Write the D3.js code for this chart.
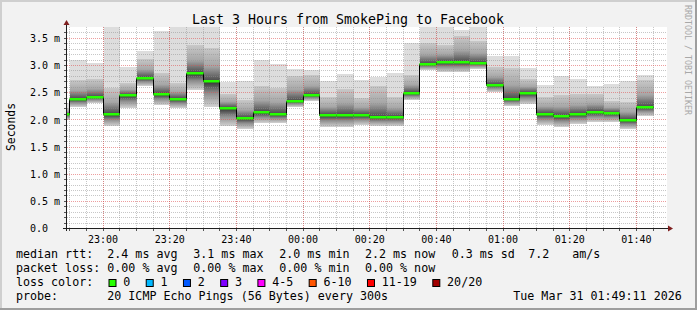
<!DOCTYPE html>
<html>
<head>
<meta charset="utf-8">
<script src="https://cdn.jsdelivr.net/npm/d3@7"></script>
<style>
body { margin: 0; background: #f2f2f2; }
text { font-family: "DejaVu Sans Mono", monospace; white-space: pre; }
</style>
</head>
<body>
<div id="chart"></div>
<script>
// 5 minute slots, the first one is cut by the left edge of the graph
let slotStart = ["22:45","22:50","22:55","23:00","23:05","23:10","23:15","23:20","23:25","23:30","23:35",
  "23:40","23:45","23:50","23:55","00:00","00:05","00:10","00:15","00:20","00:25","00:30","00:35",
  "00:40","00:45","00:50","00:55","01:00","01:05","01:10","01:15","01:20","01:25","01:30","01:35","01:40"];
// median rtt in ms
let medianRtt = [2.10,2.38,2.42,2.10,2.45,2.77,2.47,2.38,2.85,2.71,2.20,
  2.03,2.14,2.10,2.34,2.45,2.08,2.08,2.08,2.05,2.04,2.49,3.02,
  3.05,3.05,3.04,2.64,2.37,2.49,2.10,2.07,2.09,2.14,2.12,1.98,2.23];
// slowest ping of the slot
let pingMax = [2.30,3.10,3.03,3.75,2.96,3.26,3.63,3.75,3.75,3.75,2.69,
  2.70,3.10,3.02,2.93,2.90,2.70,2.83,2.72,2.78,2.86,3.41,3.72,
  3.72,3.64,3.70,3.16,3.16,2.94,2.64,2.79,2.75,2.61,2.65,2.70,2.81];
// top of the denser smoke
let pingHigh = [2.20,2.72,2.75,2.57,2.66,3.12,2.85,2.66,3.37,3.31,2.47,
  2.35,2.61,2.57,2.80,2.82,2.41,2.56,2.40,2.61,2.42,2.82,3.40,
  3.37,3.54,3.45,2.96,2.94,2.75,2.41,2.45,2.47,2.47,2.33,2.32,2.72];
// fastest ping of the slot
let pingMin = [1.98,2.23,2.30,1.87,2.20,2.61,2.26,2.20,2.54,2.23,1.87,
  1.83,1.93,1.93,2.23,2.33,1.86,1.86,1.90,1.87,1.87,2.36,2.91,
  2.88,2.87,2.92,2.50,2.25,2.29,1.89,1.86,1.92,1.95,1.95,1.83,2.07];

let yTicks = [0, 0.5, 1.0, 1.5, 2.0, 2.5, 3.0, 3.5];
let xTickLabels = ["23:00","23:20","23:40","00:00","00:20","00:40","01:00","01:20","01:40"];
let lossLabels = ["0","1","2","3","4-5","6-10","11-19","20/20"];
let lossColors = ["#26ff00","#00b8ff","#0059ff","#7e00ff","#ff00ff","#ff5500","#ff0000","#a10000"];

const width = 697, height = 310;
const plotLeft = 67, plotRight = 667, plotTop = 27, plotBottom = 228;
const legendFont = 11.67, charW = legendFont * 0.602;

let parseTime = d3.utcParse("%Y-%m-%d %H:%M:%S");
//times after midnight belong to the next day
function toDate(hm){
  let day = hm < "12:00" ? "2026-03-31" : "2026-03-30";
  let sec = hm.length == 5 ? hm + ":00" : hm;
  return parseTime(day + " " + sec);
}
let startTime = toDate("22:49:11");
let endTime = toDate("01:49:11");

let x = d3.scaleUtc().domain([startTime, endTime]).range([plotLeft - 0.5, plotRight - 0.5]);
let y = d3.scaleLinear().domain([0, 3.7]).range([plotBottom, plotTop]);

let slots = slotStart.map(function(s, i){
  let t0 = toDate(s);
  return { t0: t0, t1: d3.utcMinute.offset(t0, 5), med: medianRtt[i], max: pingMax[i], hi: pingHigh[i], min: pingMin[i] };
});

let svg = d3.select("#chart").append("svg")
  .attr("width", width)
  .attr("height", height);

svg.append("rect").attr("width", width).attr("height", height).attr("fill", "#f2f2f2");
//3d shade round the picture
svg.append("rect").attr("x", 0).attr("y", 0).attr("width", width).attr("height", 2).attr("fill", "#cfcfcf");
svg.append("rect").attr("x", 0).attr("y", 0).attr("width", 2).attr("height", height).attr("fill", "#cfcfcf");
svg.append("rect").attr("x", 0).attr("y", height - 2).attr("width", width).attr("height", 2).attr("fill", "#9e9e9e");
svg.append("rect").attr("x", width - 2).attr("y", 0).attr("width", 2).attr("height", height).attr("fill", "#9e9e9e");

svg.append("rect")
  .attr("x", plotLeft).attr("y", plotTop)
  .attr("width", plotRight - plotLeft).attr("height", plotBottom - plotTop)
  .attr("fill", "#ffffff");

let defs = svg.append("defs");
defs.append("clipPath").attr("id", "plotClip")
  .append("rect")
  .attr("x", plotLeft).attr("y", plotTop)
  .attr("width", plotRight - plotLeft).attr("height", plotBottom - plotTop);

let gradUp = defs.append("linearGradient").attr("id", "smokeUp")
  .attr("x1", 0).attr("y1", 0).attr("x2", 0).attr("y2", 1);
gradUp.append("stop").attr("offset", "0%").attr("stop-color", "#c8c8c8");
gradUp.append("stop").attr("offset", "55%").attr("stop-color", "#a6a6a6");
gradUp.append("stop").attr("offset", "100%").attr("stop-color", "#4a4a4a");

let gradDown = defs.append("linearGradient").attr("id", "smokeDown")
  .attr("x1", 0).attr("y1", 0).attr("x2", 0).attr("y2", 1);
gradDown.append("stop").attr("offset", "0%").attr("stop-color", "#2e2e2e");
gradDown.append("stop").attr("offset", "45%").attr("stop-color", "#8c8c8c");
gradDown.append("stop").attr("offset", "100%").attr("stop-color", "#d2d2d2");

let px = function(t){ return Math.round(x(t)) + 0.5; };
let py = function(v){ return Math.round(y(v)); };

let smoke = svg.append("g").attr("clip-path", "url(#plotClip)").attr("shape-rendering", "crispEdges");

//lightest smoke, full spread of the pings
smoke.selectAll(".outer").data(slots).enter().append("rect")
  .attr("x", d => px(d.t0)).attr("width", d => px(d.t1) - px(d.t0))
  .attr("y", d => py(d.max)).attr("height", d => py(d.min) - py(d.max))
  .attr("fill", "#dddddd");

smoke.selectAll(".upper").data(slots).enter().append("rect")
  .attr("x", d => px(d.t0)).attr("width", d => px(d.t1) - px(d.t0))
  .attr("y", d => py(d.hi)).attr("height", d => py(d.med) - py(d.hi))
  .attr("fill", "url(#smokeUp)");

smoke.selectAll(".lower").data(slots).enter().append("rect")
  .attr("x", d => px(d.t0)).attr("width", d => px(d.t1) - px(d.t0))
  .attr("y", d => py(d.med)).attr("height", d => py(d.min) - py(d.med))
  .attr("fill", "url(#smokeDown)");

//grid goes over the smoke, like rrdtool does
let grid = svg.append("g");
let yMinor = d3.range(1, 37).map(d => d / 10).filter(d => d % 0.5 > 0.01 && d % 0.5 < 0.49);
let xMinor = d3.utcMinute.every(5).range(toDate("22:50"), endTime);
let xMajor = xTickLabels.map(toDate);

grid.selectAll(".ymin").data(yMinor).enter().append("line")
  .attr("x1", plotLeft).attr("x2", plotRight)
  .attr("y1", d => py(d) + 0.5).attr("y2", d => py(d) + 0.5)
  .attr("stroke", "rgba(143,143,143,0.5)").attr("stroke-dasharray", "1,1");

grid.selectAll(".xmin").data(xMinor).enter().append("line")
  .attr("x1", d => px(d)).attr("x2", d => px(d))
  .attr("y1", plotTop).attr("y2", plotBottom)
  .attr("stroke", "rgba(143,143,143,0.5)").attr("stroke-dasharray", "1,1");

grid.selectAll(".ymaj").data(yTicks.slice(1)).enter().append("line")
  .attr("x1", plotLeft).attr("x2", plotRight)
  .attr("y1", d => py(d) + 0.5).attr("y2", d => py(d) + 0.5)
  .attr("stroke", "rgba(222,79,79,0.55)").attr("stroke-dasharray", "1,1");

grid.selectAll(".xmaj").data(xMajor).enter().append("line")
  .attr("x1", d => px(d)).attr("x2", d => px(d))
  .attr("y1", plotTop).attr("y2", plotBottom)
  .attr("stroke", "rgba(222,79,79,0.55)").attr("stroke-dasharray", "1,1");

//small ticks on the axes
grid.selectAll(".ytick").data(yMinor.concat(yTicks)).enter().append("line")
  .attr("x1", plotLeft - 3).attr("x2", plotLeft)
  .attr("y1", d => py(d) + 0.5).attr("y2", d => py(d) + 0.5)
  .attr("stroke", "#555");
grid.selectAll(".xtick").data(xMinor).enter().append("line")
  .attr("x1", d => px(d)).attr("x2", d => px(d))
  .attr("y1", plotBottom).attr("y2", plotBottom + 3)
  .attr("stroke", "#555");

//median line: black steps then loss coloured segments
let medLine = d3.line()
  .x(d => px(d.t))
  .y(d => py(d.v) + 0.5)
  .curve(d3.curveStepAfter);
let medPoints = slots.map(d => ({ t: d.t0, v: d.med }));
medPoints.push({ t: slots[slots.length - 1].t1, v: slots[slots.length - 1].med });

let lines = svg.append("g").attr("clip-path", "url(#plotClip)");
lines.append("path")
  .attr("d", medLine(medPoints))
  .attr("fill", "none")
  .attr("stroke", "#000")
  .attr("stroke-width", 1);

lines.selectAll(".loss").data(slots).enter().append("rect")
  .attr("x", d => px(d.t0)).attr("width", d => px(d.t1) - px(d.t0))
  .attr("y", d => py(d.med) - 1).attr("height", 2.5)
  .attr("fill", lossColors[0]);

//axes
let yAxis = d3.axisLeft(y).tickValues(yTicks).tickSize(0)
  .tickFormat(d => d == 0 ? "0.0" : d3.format(".1f")(d) + " m");
let yAxisG = svg.append("g").attr("transform", "translate(" + plotLeft + ",0.5)").call(yAxis);
yAxisG.select(".domain").remove();
yAxisG.selectAll("text")
  .attr("x", 30 - plotLeft).attr("text-anchor", "start")
  .style("font-family", "DejaVu Sans Mono").style("font-size", "10px").attr("fill", "#000");

let xAxis = d3.axisBottom(x).tickValues(xMajor).tickSize(0).tickFormat(d3.utcFormat("%H:%M"));
let xAxisG = svg.append("g").attr("transform", "translate(0," + plotBottom + ")").call(xAxis);
xAxisG.select(".domain").remove();
xAxisG.selectAll("text")
  .attr("y", 14.7).attr("dy", 0)
  .style("font-family", "DejaVu Sans Mono").style("font-size", "10px").attr("fill", "#000");

svg.append("line")
  .attr("x1", plotLeft - 0.5).attr("x2", plotLeft - 0.5)
  .attr("y1", plotBottom + 3).attr("y2", plotTop - 3)
  .attr("stroke", "#1f1f1f");
svg.append("line")
  .attr("x1", plotLeft - 4).attr("x2", plotRight + 2)
  .attr("y1", plotBottom + 0.5).attr("y2", plotBottom + 0.5)
  .attr("stroke", "#1f1f1f");
svg.append("path")
  .attr("d", "M" + (plotLeft - 3.5) + "," + (plotTop - 2) + " L" + (plotLeft + 2.5) + "," + (plotTop - 2) + " L" + (plotLeft - 0.5) + "," + (plotTop - 7) + " Z")
  .attr("fill", "#7f1f1f");
svg.append("path")
  .attr("d", "M" + (plotRight + 1) + "," + (plotBottom - 2.5) + " L" + (plotRight + 1) + "," + (plotBottom + 3.5) + " L" + (plotRight + 6) + "," + (plotBottom + 0.5) + " Z")
  .attr("fill", "#7f1f1f");

//titles
svg.append("text")
  .attr("x", 348).attr("y", 24)
  .attr("text-anchor", "middle")
  .style("font-size", "13.3px")
  .text("Last 3 Hours from SmokePing to Facebook");

svg.append("text")
  .attr("transform", "translate(15,127) rotate(-90)")
  .attr("text-anchor", "middle")
  .style("font-size", "11.4px")
  .text("Seconds");

svg.append("text")
  .attr("transform", "translate(685,5) rotate(90)")
  .style("font-size", "8.3px")
  .attr("fill", "#a8a8a8")
  .text("RRDTOOL / TOBI OETIKER");

//legend
let legendRows = [
  [["median rtt:", 16], ["2.4 ms avg", 107.3], ["3.1 ms max", 193.3], ["2.0 ms min", 279.3],
   ["2.2 ms now", 365], ["0.3 ms sd", 451.7], ["7.2", 528.3], ["am/s", 572.3]],
  [["packet loss:", 16], ["0.00 % avg", 107.3], ["0.00 % max", 193.3], ["0.00 % min", 279.3], ["0.00 % now", 365]],
  [["loss color:", 16]],
  [["probe:", 16], ["20 ICMP Echo Pings (56 Bytes) every 300s", 107.3], ["Tue Mar 31 01:49:11 2026", 513.3]]
];
legendRows.forEach(function(row, r){
  row.forEach(function(item){
    svg.append("text")
      .attr("x", item[1]).attr("y", 258 + r * 14)
      .style("font-size", legendFont + "px")
      .text(item[0]);
  });
});

let boxX = 108.5;
lossLabels.forEach(function(lbl, i){
  svg.append("rect")
    .attr("x", boxX + 0.5).attr("y", 279.5)
    .attr("width", 7).attr("height", 7)
    .attr("fill", lossColors[i])
    .attr("stroke", "#000");
  svg.append("text")
    .attr("x", boxX + 14.8).attr("y", 286)
    .style("font-size", legendFont + "px")
    .text(lbl);
  boxX = boxX + 14.8 + lbl.length * charW + 15.4;
});
</script>
</body>
</html>
